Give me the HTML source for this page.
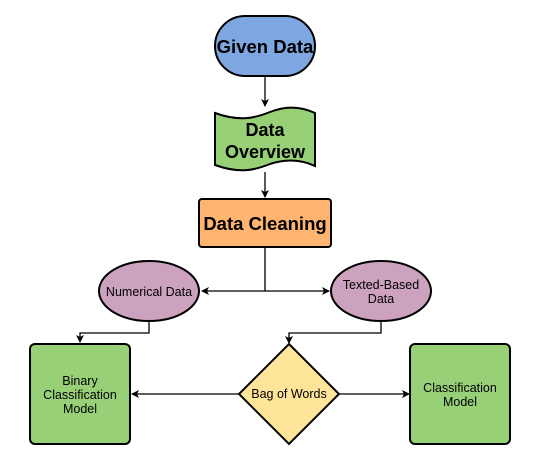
<!DOCTYPE html>
<html><head><meta charset="utf-8"><style>
html,body{margin:0;padding:0;background:#fff;width:543px;height:470px;overflow:hidden}
svg{display:block}
text{font-family:"Liberation Sans",Arial,sans-serif;fill:#000;text-anchor:middle}
</style></head><body>
<svg width="543" height="470" viewBox="0 0 543 470" xmlns="http://www.w3.org/2000/svg">
<defs>
<marker id="a" markerWidth="8" markerHeight="8" refX="7" refY="4" orient="auto" markerUnits="userSpaceOnUse">
<path d="M0,0 L8,4 L0,8 L2,4 Z" fill="#000"/></marker>
</defs>
<g stroke="#000" stroke-width="1.3" fill="none">
<line x1="265" y1="76" x2="265" y2="106" marker-end="url(#a)"/>
<line x1="265" y1="172" x2="265" y2="197" marker-end="url(#a)"/>
<polyline points="265,247 265,291 202,291" marker-end="url(#a)"/>
<polyline points="265,291 329,291" marker-end="url(#a)"/>
<polyline points="149,321 149,333 80,333 80,342" marker-end="url(#a)"/>
<polyline points="381,321 381,333 289,333 289,343" marker-end="url(#a)"/>
<line x1="239" y1="394" x2="132" y2="394" marker-end="url(#a)"/>
<line x1="339" y1="394" x2="409" y2="394" marker-end="url(#a)"/>
</g>
<g stroke="#000" stroke-width="2">
<rect x="215" y="16" width="100" height="60" rx="30" fill="#7ea6e0"/>
<path d="M215,113 C240,122 255,118 270,112 C285,106 300,106 315,113 L315,166 C300,159 285,159 270,164 C255,170 240,174 215,165 Z" fill="#97d077"/>
<rect x="199" y="199" width="132" height="48" rx="3" fill="#ffb570"/>
<ellipse cx="149" cy="291" rx="50" ry="30" fill="#cda2be"/>
<ellipse cx="381" cy="291" rx="50" ry="30" fill="#cda2be"/>
<rect x="30" y="344" width="100" height="100" rx="5" fill="#97d077"/>
<rect x="410" y="344" width="100" height="100" rx="5" fill="#97d077"/>
<path d="M289,344 L339,394 L289,444 L239,394 Z" fill="#ffe599"/>
</g>
<g font-weight="bold">
<text x="265" y="53" font-size="18.5">Given Data</text>
<text x="265" y="136" font-size="18">Data</text>
<text x="265" y="158" font-size="18">Overview</text>
<text x="265" y="230" font-size="18.5">Data Cleaning</text>
</g>
<g font-size="12.5">
<text x="149" y="296">Numerical Data</text>
<text x="381" y="289">Texted-Based</text>
<text x="381" y="303">Data</text>
<text x="80" y="385">Binary</text>
<text x="80" y="399">Classification</text>
<text x="80" y="413">Model</text>
<text x="289" y="398">Bag of Words</text>
<text x="460" y="392">Classification</text>
<text x="460" y="406">Model</text>
</g>
</svg>
</body></html>
